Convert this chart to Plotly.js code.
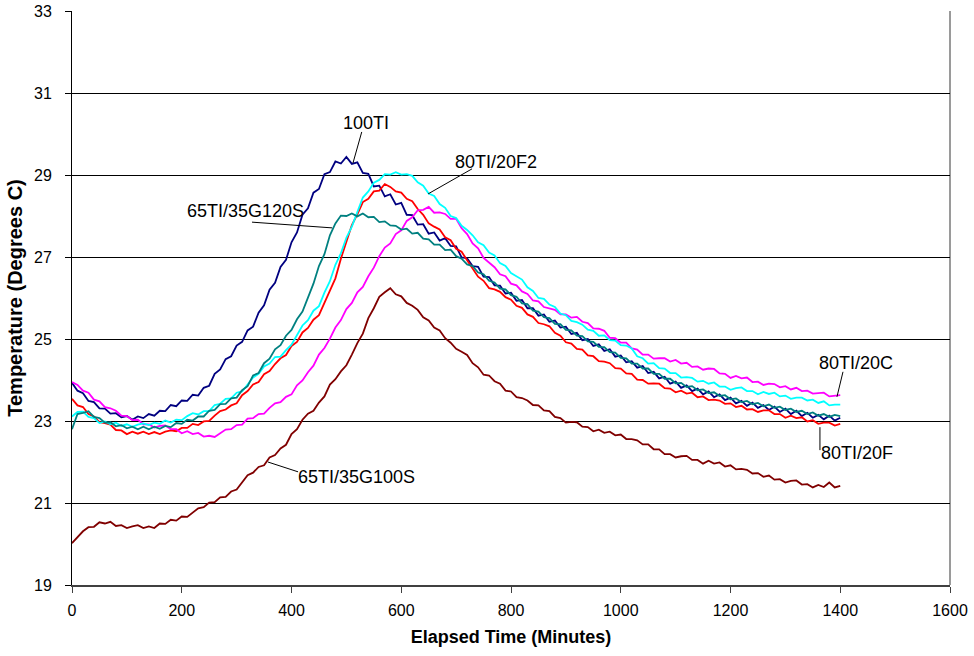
<!DOCTYPE html>
<html>
<head>
<meta charset="utf-8">
<script src="https://cdn.plot.ly/plotly-3.0.1.min.js"></script>
<style>html,body{margin:0;padding:0;background:#fff;}#chart{width:974px;height:656px;}</style>
</head>
<body>
<div id="chart"></div>
<script>
// Elapsed time (minutes)
const minutes = [0,10,20,30,40,50,60,70,80,90,100,110,120,130,140,150,160,170,180,190,200,210,220,230,240,250,260,270,280,290,300,310,320,330,340,350,360,370,380,390,400,410,420,430,440,450,460,470,480,490,500,510,520,530,540,550,560,570,580,590,600,610,620,630,640,650,660,670,680,690,700,710,720,730,740,750,760,770,780,790,800,810,820,830,840,850,860,870,880,890,900,910,920,930,940,950,960,970,980,990,1000,1010,1020,1030,1040,1050,1060,1070,1080,1090,1100,1110,1120,1130,1140,1150,1160,1170,1180,1190,1200,1210,1220,1230,1240,1250,1260,1270,1280,1290,1300,1310,1320,1330,1340,1350,1360,1370,1380,1390,1400];

const ti100 = [23.93,23.74,23.68,23.49,23.46,23.31,23.3,23.18,23.19,23.09,23.12,23.03,23.11,23.07,23.17,23.13,23.25,23.24,23.39,23.36,23.5,23.49,23.64,23.62,23.81,23.86,24.15,24.26,24.51,24.58,24.84,24.93,25.21,25.3,25.64,25.82,26.2,26.37,26.76,26.93,27.36,27.6,28.03,28.19,28.57,28.66,29.02,29.07,29.33,29.28,29.44,29.27,29.31,29.05,29.03,28.72,28.74,28.48,28.53,28.28,28.32,28.03,28.02,27.79,27.8,27.57,27.6,27.4,27.46,27.27,27.26,26.99,26.97,26.78,26.76,26.52,26.51,26.31,26.3,26.11,26.13,25.93,25.95,25.75,25.75,25.57,25.6,25.42,25.45,25.28,25.3,25.12,25.15,24.97,25.0,24.83,24.87,24.71,24.75,24.57,24.6,24.43,24.46,24.3,24.34,24.17,24.2,24.04,24.08,23.91,23.96,23.81,23.87,23.73,23.79,23.65,23.72,23.58,23.65,23.51,23.57,23.43,23.49,23.37,23.45,23.32,23.39,23.27,23.35,23.22,23.3,23.17,23.25,23.12,23.2,23.08,23.15,23.04,23.13,23.01,23.08];

const ti80f20 = [23.54,23.38,23.34,23.17,23.11,22.97,22.95,22.91,22.78,22.77,22.68,22.74,22.69,22.74,22.68,22.73,22.68,22.74,22.77,22.75,22.83,22.83,22.93,22.9,22.99,23.0,23.13,23.24,23.28,23.38,23.43,23.63,23.73,23.89,23.95,24.14,24.22,24.39,24.53,24.61,24.83,24.93,25.16,25.27,25.47,25.58,25.88,26.2,26.48,26.96,27.35,27.78,28.04,28.34,28.42,28.6,28.62,28.78,28.71,28.6,28.57,28.42,28.36,28.17,28.03,27.82,27.74,27.67,27.48,27.41,27.2,27.13,26.92,26.72,26.52,26.42,26.24,26.21,26.15,26.02,25.96,25.81,25.76,25.6,25.54,25.39,25.36,25.31,25.15,25.08,24.92,24.89,24.76,24.74,24.6,24.58,24.46,24.45,24.41,24.29,24.28,24.16,24.15,24.01,24.0,23.91,23.92,23.91,23.8,23.79,23.7,23.74,23.67,23.69,23.58,23.6,23.51,23.52,23.5,23.42,23.43,23.34,23.37,23.28,23.29,23.22,23.26,23.26,23.17,23.17,23.08,23.13,23.07,23.09,22.99,23.02,22.93,22.96,22.96,22.89,22.93];

const ti80c20 = [23.95,23.88,23.74,23.69,23.52,23.48,23.34,23.31,23.25,23.13,23.12,23.02,23.03,22.92,22.92,22.84,22.88,22.89,22.8,22.8,22.7,22.75,22.68,22.71,22.62,22.64,22.61,22.71,22.79,22.8,22.9,22.91,23.06,23.07,23.17,23.18,23.32,23.43,23.46,23.59,23.65,23.87,23.99,24.19,24.35,24.62,24.78,25.01,25.28,25.46,25.73,25.88,26.14,26.27,26.53,26.74,27.02,27.23,27.33,27.56,27.65,27.88,27.97,28.14,28.15,28.22,28.08,28.09,28.05,27.93,27.93,27.7,27.56,27.33,27.21,26.98,26.87,26.75,26.58,26.53,26.35,26.31,26.16,26.1,25.94,25.92,25.78,25.75,25.71,25.6,25.6,25.52,25.54,25.42,25.39,25.26,25.25,25.2,25.03,25.02,24.91,24.91,24.77,24.74,24.62,24.62,24.52,24.53,24.53,24.45,24.49,24.4,24.42,24.32,24.33,24.25,24.28,24.27,24.16,24.15,24.05,24.1,24.04,24.06,23.95,23.96,23.88,23.91,23.9,23.82,23.85,23.77,23.81,23.73,23.74,23.67,23.68,23.69,23.6,23.61,23.63];

const ti80f2 = [23.11,23.22,23.23,23.1,23.07,22.95,22.99,22.92,22.96,22.88,22.92,22.86,22.91,22.94,22.9,22.96,22.93,23.01,22.96,23.03,23.02,23.12,23.19,23.16,23.24,23.24,23.39,23.42,23.54,23.55,23.69,23.72,23.89,24.06,24.15,24.33,24.4,24.56,24.57,24.73,24.86,25.1,25.33,25.46,25.69,25.8,26.13,26.41,26.81,27.09,27.47,27.74,28.11,28.45,28.6,28.81,28.88,29.02,29.01,29.07,29.01,29.02,28.98,28.82,28.74,28.55,28.49,28.29,28.2,28.0,27.95,27.76,27.66,27.53,27.36,27.29,27.11,27.04,26.85,26.78,26.61,26.54,26.45,26.26,26.17,26.0,25.98,25.84,25.78,25.62,25.58,25.44,25.41,25.35,25.23,25.2,25.08,25.09,24.97,24.96,24.85,24.84,24.77,24.58,24.53,24.4,24.41,24.29,24.28,24.17,24.17,24.06,24.07,24.05,23.96,23.98,23.91,23.94,23.84,23.84,23.76,23.8,23.82,23.73,23.73,23.65,23.71,23.66,23.69,23.6,23.62,23.54,23.57,23.57,23.5,23.52,23.44,23.48,23.38,23.4,23.4];

const ti65g120s = [22.8,23.17,23.2,23.24,23.1,23.07,22.96,22.97,22.87,22.9,22.82,22.86,22.8,22.86,22.8,22.86,22.81,22.88,22.85,22.95,22.93,23.03,23.01,23.11,23.11,23.25,23.27,23.41,23.42,23.55,23.57,23.75,23.85,24.11,24.17,24.41,24.52,24.75,24.85,25.08,25.22,25.48,25.67,26.01,26.35,26.78,27.07,27.53,27.82,28.01,28.0,28.06,27.99,28.06,27.97,27.98,27.85,27.87,27.77,27.76,27.67,27.69,27.57,27.59,27.45,27.43,27.3,27.3,27.17,27.18,27.02,26.96,26.82,26.78,26.62,26.58,26.42,26.38,26.23,26.21,26.07,26.03,25.87,25.85,25.69,25.67,25.53,25.51,25.37,25.36,25.22,25.21,25.08,25.07,24.94,24.93,24.81,24.8,24.68,24.67,24.54,24.53,24.4,24.4,24.28,24.28,24.15,24.15,24.03,24.03,23.92,23.93,23.83,23.85,23.75,23.77,23.68,23.7,23.61,23.63,23.53,23.55,23.46,23.49,23.41,23.44,23.36,23.4,23.32,23.35,23.27,23.3,23.22,23.25,23.17,23.21,23.13,23.17,23.1,23.15,23.12];

const ti65g100s = [20.02,20.16,20.31,20.41,20.42,20.53,20.5,20.54,20.44,20.46,20.39,20.43,20.46,20.39,20.43,20.39,20.5,20.49,20.59,20.57,20.67,20.66,20.77,20.87,20.9,21.01,21.02,21.14,21.15,21.28,21.33,21.52,21.68,21.74,21.88,21.92,22.11,22.17,22.33,22.42,22.68,22.8,23.03,23.18,23.25,23.45,23.6,23.89,24.02,24.21,24.36,24.62,24.9,25.13,25.51,25.75,26.03,26.14,26.24,26.09,26.04,25.88,25.81,25.71,25.53,25.45,25.28,25.21,25.02,24.91,24.76,24.69,24.61,24.41,24.31,24.13,24.11,23.97,23.91,23.74,23.72,23.58,23.56,23.5,23.39,23.38,23.26,23.24,23.1,23.07,22.96,22.98,22.97,22.86,22.85,22.75,22.79,22.71,22.74,22.65,22.67,22.56,22.56,22.53,22.43,22.43,22.31,22.31,22.19,22.19,22.11,22.14,22.15,22.05,22.05,21.96,22.03,21.96,21.99,21.89,21.92,21.82,21.83,21.81,21.72,21.73,21.64,21.67,21.57,21.58,21.5,21.54,21.55,21.45,21.46,21.38,21.44,21.39,21.5,21.38,21.42];

const seriesNames = ['100TI','80TI/20F','80TI/20C','80TI/20F2','65TI/35G120S','65TI/35G100S'];
const seriesValues = [ti100, ti80f20, ti80c20, ti80f2, ti65g120s, ti65g100s];
const seriesColors = ['#000080','#FF0000','#FF00FF','#00FFFF','#008080','#800000'];

const yTickVals = [19,21,23,25,27,29,31,33];
const xTickVals = [0,200,400,600,800,1000,1200,1400,1600];
const gridVals = [21,23,25,27,29,31];

// Callout labels: text, text centre, leader line (from, to) in data units
const labels = [
  {text:'100TI',        tx:536,  ty:30.27, x0:528,  y0:30.05, x1:512,  y1:29.29},
  {text:'65TI/35G120S', tx:317,  ty:28.12, x0:328,  y0:27.85, x1:474,  y1:27.71},
  {text:'80TI/20F2',    tx:773,  ty:29.32, x0:729,  y0:29.15, x1:649,  y1:28.54},
  {text:'80TI/20C',     tx:1429, ty:24.41, x0:1405, y0:24.2,  x1:1394, y1:23.59},
  {text:'80TI/20F',     tx:1430, ty:22.22, x0:1363, y0:22.29, x1:1363, y1:22.85},
  {text:'65TI/35G100S', tx:519,  ty:21.63, x0:412,  y0:21.76, x1:357,  y1:22.0}
];

const FONT = 'Liberation Sans, Arial, sans-serif';

const traces = [];
// empty carrier trace so the grid-only overlay axis is drawn
traces.push({type:'scatter', mode:'lines', x:[], y:[], yaxis:'y2', showlegend:false, hoverinfo:'skip'});
seriesNames.forEach((n, i) => traces.push({
  type: 'scatter', mode: 'lines', name: n,
  x: minutes, y: seriesValues[i],
  line: {color: seriesColors[i], width: 1.8},
  hoverinfo: 'skip'
}));

const shapes = [];
shapes.push({type:'line', xref:'paper', yref:'paper', x0:1, x1:1, y0:0, y1:1, line:{color:'#9a9a9a', width:2}, layer:'below'});
labels.forEach(l => shapes.push({
  type:'line', xref:'x', yref:'y', x0:l.x0, y0:l.y0, x1:l.x1, y1:l.y1,
  line:{color:'#000000', width:1}
}));

const annotations = labels.map(l => ({
  xref:'x', yref:'y', x:l.tx, y:l.ty, text:l.text, showarrow:false,
  font:{family:FONT, size:18, color:'#000'}, xanchor:'center', yanchor:'middle'
}));

const layout = {
  width: 974, height: 656,
  margin: {l:72, r:24, t:11, b:71, pad:0},
  paper_bgcolor:'#ffffff', plot_bgcolor:'#ffffff',
  showlegend: false,
  font: {family: FONT, color:'#000'},
  xaxis: {
    range:[0,1600], tickvals:xTickVals, ticks:'outside', ticklen:6, tickcolor:'#404040', tickwidth:1,
    showline:true, linecolor:'#404040', linewidth:2, showgrid:false, zeroline:false,
    tickfont:{family:FONT, size:16, color:'#000'}, ticklabelstandoff:4,
    title:{text:'Elapsed Time (Minutes)', font:{family:FONT, size:18, weight:'bold', color:'#000'}, standoff:12}
  },
  yaxis: {
    range:[19,33], tickvals:yTickVals, ticks:'outside', ticklen:6, tickcolor:'#000', tickwidth:1,
    showline:true, linecolor:'#000', linewidth:1, showgrid:false, zeroline:false,
    tickfont:{family:FONT, size:16, color:'#000'}, ticklabelstandoff:10,
    title:{text:'Temperature (Degrees C)', font:{family:FONT, size:20, weight:'bold', color:'#000'}, standoff:6}
  },
  yaxis2: {
    overlaying:'y', range:[19,33], autorange:false, tickvals:gridVals, showgrid:true, gridcolor:'#000', gridwidth:1,
    showticklabels:false, ticks:'', showline:false, zeroline:false
  },
  shapes: shapes,
  annotations: annotations
};

Plotly.newPlot('chart', traces, layout, {staticPlot:true, displayModeBar:false});
</script>
</body>
</html>
